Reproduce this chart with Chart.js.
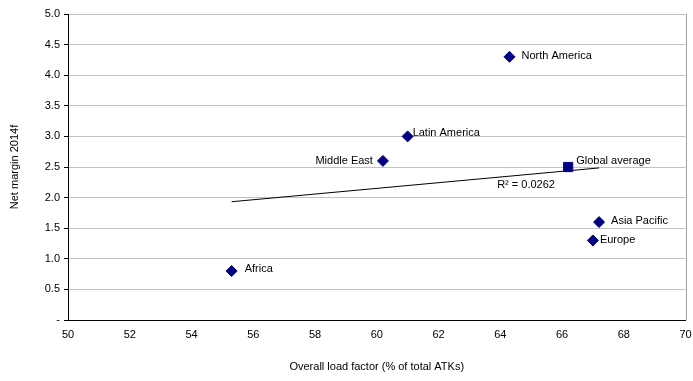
<!DOCTYPE html>
<html>
<head>
<meta charset="utf-8">
<script src="https://cdn.jsdelivr.net/npm/chart.js@4/dist/chart.umd.min.js"></script>
<style>
html,body{margin:0;padding:0;background:#fff;}
#wrap{width:693px;height:381px;position:relative;}
</style>
</head>
<body>
<div id="wrap"><canvas id="c" width="693" height="381"></canvas></div>
<script>
const regions = ["North America","Latin America","Middle East","Asia Pacific","Europe","Africa"];
const loadFactor = [64.3, 61.0, 60.2, 67.2, 67.0, 55.3];
const netMargin = [4.3, 3.0, 2.6, 1.6, 1.3, 0.8];
const globalLabel = ["Global average"];
const globalLoad = [66.2];
const globalMargin = [2.5];
const r2Text = "R\u00b2 = 0.0262";
const xTicks = [50,52,54,56,58,60,62,64,66,68,70];
const yTicks = [0,0.5,1.0,1.5,2.0,2.5,3.0,3.5,4.0,4.5,5.0];

// least-squares trendline over the regions
const n = loadFactor.length;
const mx = loadFactor.reduce((a,b)=>a+b,0)/n;
const my = netMargin.reduce((a,b)=>a+b,0)/n;
let sxy=0,sxx=0;
for(let i=0;i<n;i++){sxy+=(loadFactor[i]-mx)*(netMargin[i]-my);sxx+=(loadFactor[i]-mx)**2;}
const slope=sxy/sxx, icpt=my-slope*mx;
const xmin=Math.min(...loadFactor), xmax=Math.max(...loadFactor);
const trend=[{x:xmin,y:icpt+slope*xmin},{x:xmax,y:icpt+slope*xmax}];

const labelStyle = {
  "North America":{dx:12,dy:-1,align:"left"},
  "Latin America":{dx:5,dy:-3,align:"left"},
  "Middle East":{dx:-10,dy:0,align:"right"},
  "Asia Pacific":{dx:12,dy:-1,align:"left"},
  "Europe":{dx:7,dy:0,align:"left"},
  "Africa":{dx:13,dy:-2,align:"left"},
  "Global average":{dx:8,dy:-6,align:"left"}
};

const FONT = "'Liberation Sans', Arial, sans-serif";

const labelPlugin = {
  id:'pointLabels',
  afterDatasetsDraw(chart){
    const ctx=chart.ctx;
    ctx.save();
    ctx.font="11px "+FONT;
    ctx.fillStyle="#000";
    ctx.textBaseline="middle";
    chart.data.datasets.forEach((ds,di)=>{
      if(!ds.names) return;
      const meta=chart.getDatasetMeta(di);
      meta.data.forEach((el,i)=>{
        const nm=ds.names[i];
        const st=labelStyle[nm]||{dx:8,dy:0,align:"left"};
        ctx.textAlign=st.align;
        ctx.fillText(nm, el.x+st.dx, el.y+st.dy);
      });
    });
    // R² label near trendline
    const xs=chart.scales.x, ys=chart.scales.y;
    const tx=63.9;
    const px=xs.getPixelForValue(tx);
    const py=ys.getPixelForValue(icpt+slope*tx)+8;
    ctx.textAlign="left";
    ctx.fillText(r2Text, px, py);
    ctx.restore();
  }
};

const framePlugin = {
  id:'frame',
  beforeDatasetsDraw(chart){
    const a=chart.chartArea, ctx=chart.ctx;
    ctx.save();
    ctx.strokeStyle="#a0a0a0";
    ctx.lineWidth=1;
    ctx.beginPath();
    ctx.moveTo(Math.round(a.right)+0.5, a.top);
    ctx.lineTo(Math.round(a.right)+0.5, a.bottom);
    ctx.stroke();
    ctx.restore();
  }
};

new Chart(document.getElementById('c'),{
  type:'scatter',
  data:{
    datasets:[
      {
        label:'Trend',
        type:'line',
        data:trend,
        borderColor:'#000',
        borderWidth:1,
        pointRadius:0,
        fill:false,
        order:2
      },
      {
        label:'Regions',
        names:regions,
        data:loadFactor.map((x,i)=>({x:x,y:netMargin[i]})),
        pointStyle:'rectRot',
        pointRadius:5.5,
        backgroundColor:'#000080',
        borderColor:'#000080',
        borderWidth:1,
        order:1
      },
      {
        label:'Global',
        names:globalLabel,
        data:globalLoad.map((x,i)=>({x:x,y:globalMargin[i]})),
        pointStyle:'rect',
        pointRadius:6.5,
        backgroundColor:'#000080',
        borderColor:'#000080',
        borderWidth:1,
        order:0
      }
    ]
  },
  options:{
    responsive:false,
    animation:false,
    events:[],
    layout:{padding:{left:0,right:4,top:14,bottom:0}},
    plugins:{legend:{display:false},tooltip:{enabled:false}},
    scales:{
      x:{
        type:'linear',
        min:50,max:70,
        afterBuildTicks(s){s.ticks=xTicks.map(v=>({value:v}));},
        ticks:{font:{family:FONT,size:11},color:'#000',padding:0,maxRotation:0},
        grid:{display:false},
        border:{display:true,color:'#000',width:1},
        title:{display:true,text:'Overall load factor (% of total ATKs)',font:{family:FONT,size:11},color:'#000',padding:{top:12,bottom:7}},
        afterFit(s){s.height=61;}
      },
      y:{
        type:'linear',
        min:0,max:5,
        afterBuildTicks(s){s.ticks=yTicks.map(v=>({value:v}));},
        ticks:{font:{family:FONT,size:11},color:'#000',padding:4,
          callback:(v)=>v===0?'-':Number(v).toFixed(1)},
        grid:{color:'#c0c0c0',lineWidth:1,tickLength:4,tickColor:'#000'},
        border:{display:true,color:'#000',width:1},
        title:{display:true,text:'Net margin 2014f',font:{family:FONT,size:11},color:'#000',padding:{top:8,bottom:8}},
        afterFit(s){s.width=68;}
      }
    }
  },
  plugins:[framePlugin,labelPlugin]
});
</script>
</body>
</html>
